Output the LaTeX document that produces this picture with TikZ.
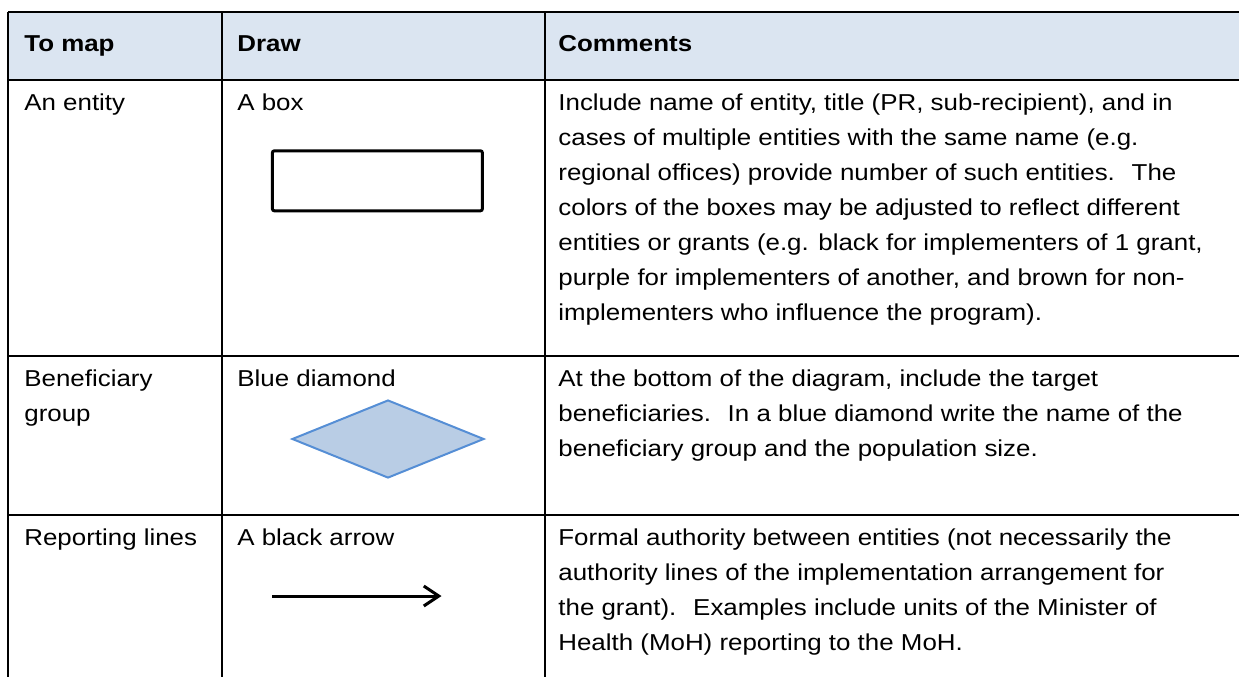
\documentclass[tikz,border=0pt]{standalone}
\usepackage{fontspec}
\setmainfont{Liberation Sans}[FakeStretch=1.126]
\usetikzlibrary{shapes.geometric,arrows.meta}

\definecolor{headblue}{RGB}{219,229,241}
\definecolor{diamondfill}{RGB}{185,205,229}
\definecolor{diamondline}{RGB}{85,142,213}

\begin{document}
\begin{tikzpicture}[x=0.5pt,y=-0.5pt,
    cell/.style={anchor=base west, inner sep=0pt, align=left, font=\fontsize{11.5pt}{17.5pt}\selectfont},
    headcell/.style={cell, font=\fontsize{11.5pt}{17.5pt}\selectfont\bfseries},
    tablerule/.style={line width=1pt},
    entity/.style={draw, line width=1.5pt, rounded corners=1pt, minimum width=105pt, minimum height=30pt, inner sep=0pt},
    beneficiary/.style={diamond, draw=diamondline, fill=diamondfill, line width=1pt, minimum width=96pt, minimum height=39pt, inner sep=0pt},
    reportline/.style={line width=1.5pt, -{Straight Barb[length=7.5pt,width=10pt]}}]
\useasboundingbox (0,0) rectangle (1239,677);
% header row
\fill[headblue] (8,12) rectangle (1239,80);
% table rules
\draw[tablerule] (8,12) -- (1239,12);
\draw[tablerule] (8,80) -- (1239,80);
\draw[tablerule] (8,356) -- (1239,356);
\draw[tablerule] (8,515) -- (1239,515);
\draw[tablerule] (8,12) -- (8,677);
\draw[tablerule] (222,12) -- (222,677);
\draw[tablerule] (545,12) -- (545,677);

\node[headcell] (hmap) at (24,51) {To map};
\node[headcell] (hdraw) at (237,51) {Draw};
\node[headcell] (hcomm) at (558,51) {Comments};

% entity row (multi-line cells sit on their last baseline)
\node[cell] (mapentity) at (24,110) {An entity};
\node[cell] (drawentity) at (237,110) {A box};
\node[entity] (entitybox) at (377.4,180.8) {};
\node[cell] (commentity) at (558,320) {Include name of entity, title (PR, sub-recipient), and in\\
cases of multiple entities with the same name (e.g.\\
regional offices) provide number of such entities.~ The\\
colors of the boxes may be adjusted to reflect different\\
entities or grants (e.g. black for implementers of 1 grant,\\
purple for implementers of another, and brown for non-\\
implementers who influence the program).};

% beneficiary row
\node[cell] (mapbenef) at (24,421) {Beneficiary\\group};
\node[cell] (drawbenef) at (237,386) {Blue diamond};
\node[beneficiary] (benefdiamond) at (388,439) {};
\node[cell] (commbenef) at (558,456) {At the bottom of the diagram, include the target\\
beneficiaries.~ In a blue diamond write the name of the\\
beneficiary group and the population size.};

% reporting row
\node[cell] (maprep) at (24,545) {Reporting lines};
\node[cell] (drawrep) at (237,545) {A black arrow};
\coordinate (reptail) at (272,596);
\coordinate (rephead) at (441.5,596);
\draw[reportline] (reptail) -- (rephead);
\node[cell] (commrep) at (558,650) {Formal authority between entities (not necessarily the\\
authority lines of the implementation arrangement for\\
the grant).~ Examples include units of the Minister of\\
Health (MoH) reporting to the MoH.};
\end{tikzpicture}
\end{document}
